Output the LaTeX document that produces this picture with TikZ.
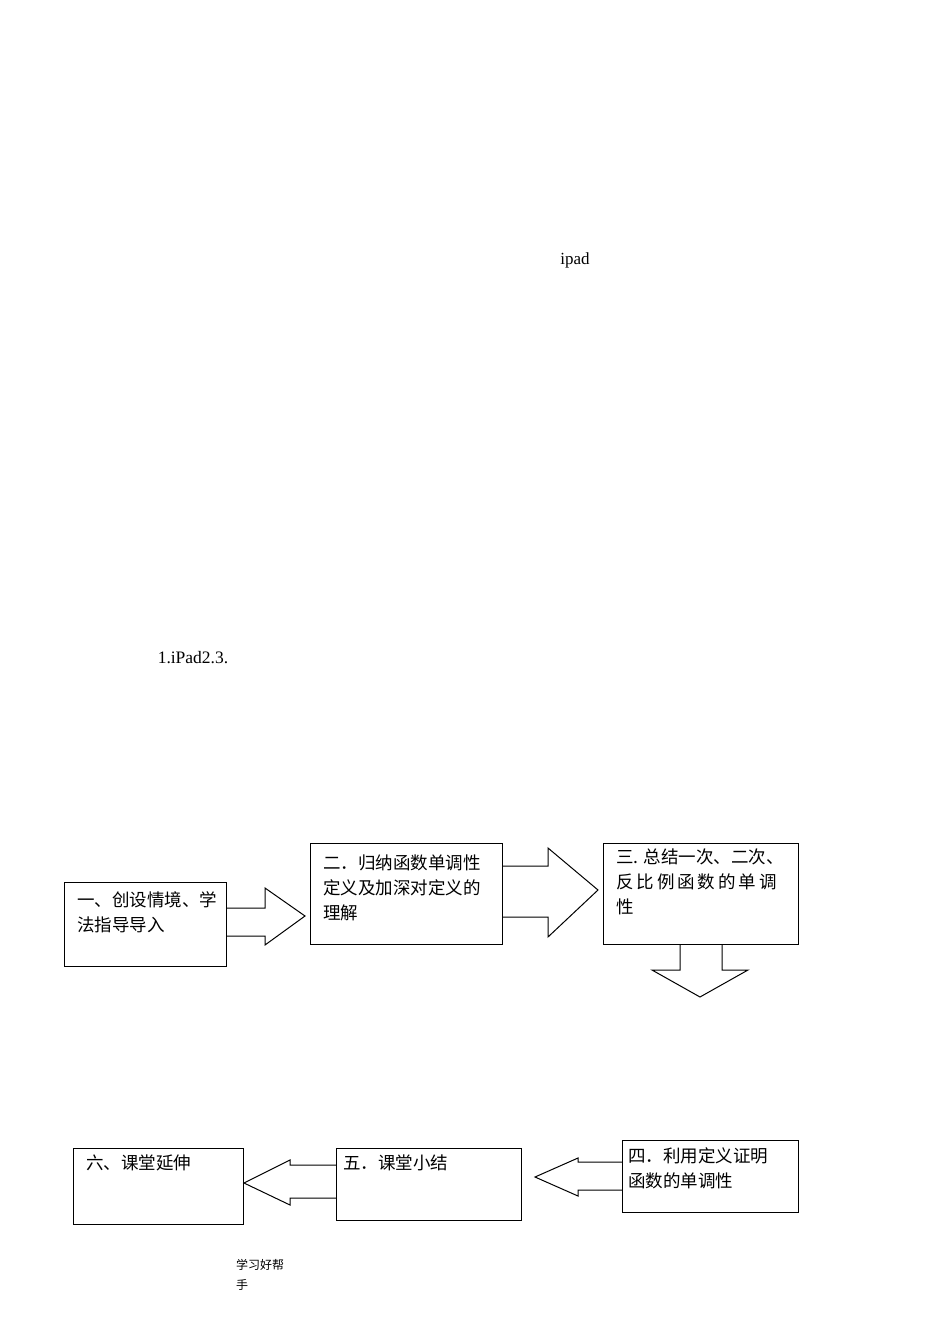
\documentclass[tikz,border=0pt]{standalone}
\usepackage{fontspec}
\setmainfont{Liberation Serif}
\newfontfamily\cjk{Noto Sans CJK SC}
\begin{document}
\begin{tikzpicture}[x=1pt,y=-1pt,
  box/.style={draw,line width=1pt},
  arr/.style={draw,line width=1pt,fill=white,line join=miter},
  lbl/.style={anchor=north west,align=left,font=\cjk\fontsize{17.5}{25}\selectfont,inner sep=0pt}]
\useasboundingbox (0,0) rectangle (950,1344);
\node[font=\fontsize{17}{18}\selectfont] (ipad) at (575,260) {ipad};
\node[font=\fontsize{17.5}{18}\selectfont] (ip2) at (193,658) {1.iPad2.3.};
% arrows
\draw[arr] (226,908) -- (265,908) -- (265,888) -- (305,916) -- (265,945) -- (265,936) -- (226,936);
\draw[arr] (502,866) -- (548,866) -- (548,848) -- (598,890) -- (548,937) -- (548,917) -- (502,917);
\draw[arr] (680,944) -- (680,970) -- (652,970) -- (700,997) -- (748,970) -- (722,970) -- (722,944);
\draw[arr] (622,1162) -- (578,1162) -- (578,1158) -- (535,1177) -- (578,1196) -- (578,1190) -- (622,1190);
\draw[arr] (336,1165) -- (290,1165) -- (290,1160) -- (244,1183) -- (290,1205) -- (290,1198) -- (336,1198);
% boxes
\draw[box] (64,882) rectangle (226,966);
\draw[box] (310,843) rectangle (502,944);
\draw[box] (603,843) rectangle (798,944);
\draw[box] (622,1140) rectangle (798,1212);
\draw[box] (336,1148) rectangle (521,1220);
\draw[box] (73,1148) rectangle (243,1224);
\node[lbl] (t1) at (77,891) {一、创设情境、学\\法指导导入};
\node[lbl] (t2) at (323,855) {二．归纳函数单调性\\定义及加深对定义的\\理解};
\node[lbl] (t3) at (616,849) {三. 总结一次、二次、\\反\,比\,例\,函\,数\,的\,单\,调\\性};
\node[lbl] (t4) at (628,1147) {四．利用定义证明\\函数的单调性};
\node[lbl] (t5) at (343,1155) {五．课堂小结};
\node[lbl] (t6) at (86,1155) {六、课堂延伸};
\node[anchor=north west,align=left,font=\cjk\fontsize{12}{20}\selectfont,inner sep=0pt] (foot) at (236,1259) {学习好帮\\手};
\end{tikzpicture}
\end{document}
